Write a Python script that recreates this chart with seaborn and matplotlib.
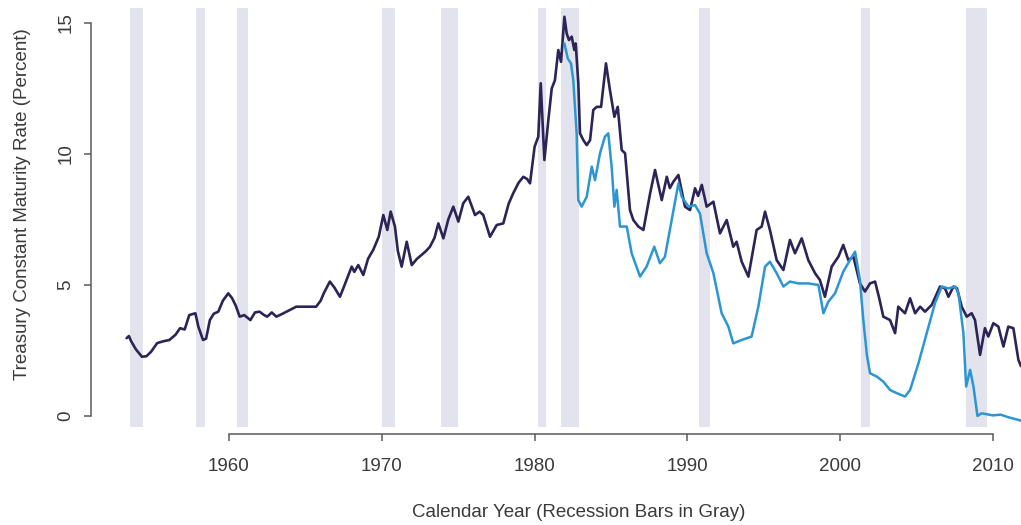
import numpy as np
import pandas as pd
import seaborn as sns
import matplotlib
matplotlib.use("Agg")
import matplotlib.pyplot as plt

# 10-year treasury (dark line): year, percent
long_years = [
    1953.30, 1953.45, 1953.60, 1953.90, 1954.30, 1954.60, 1954.90, 1955.30, 1955.70,
    1956.10, 1956.50, 1956.80, 1957.10, 1957.40, 1957.80, 1958.00, 1958.30, 1958.50,
    1958.75, 1959.00, 1959.30, 1959.60, 1959.95, 1960.20, 1960.45, 1960.70, 1961.00,
    1961.40, 1961.70, 1962.00, 1962.30, 1962.50, 1962.80, 1963.10, 1963.50, 1964.00,
    1964.40, 1965.00, 1965.70, 1966.00, 1966.20, 1966.60, 1966.90, 1967.26, 1967.50,
    1968.03, 1968.20, 1968.46, 1968.79, 1969.10, 1969.44, 1969.80, 1970.10, 1970.36,
    1970.58, 1970.86, 1971.05, 1971.30, 1971.63, 1971.96, 1972.30, 1972.61, 1972.90,
    1973.15, 1973.45, 1973.70, 1974.03, 1974.35, 1974.68, 1975.01, 1975.33, 1975.66,
    1976.10, 1976.40, 1976.64, 1977.08, 1977.52, 1977.95, 1978.30, 1978.60, 1978.95,
    1979.26, 1979.50, 1979.70, 1980.00, 1980.24, 1980.40, 1980.64, 1980.90, 1981.12,
    1981.33, 1981.55, 1981.73, 1981.95, 1982.10, 1982.25, 1982.43, 1982.60, 1982.69,
    1982.86, 1982.97, 1983.19, 1983.41, 1983.63, 1983.84, 1984.06, 1984.35, 1984.67,
    1984.93, 1985.22, 1985.44, 1985.70, 1985.92, 1986.24, 1986.46, 1986.79, 1987.12,
    1987.56, 1987.88, 1988.32, 1988.65, 1988.85, 1989.08, 1989.41, 1989.84, 1990.17,
    1990.50, 1990.70, 1990.94, 1991.26, 1991.70, 1992.13, 1992.57, 1993.00, 1993.22,
    1993.55, 1993.99, 1994.53, 1994.86, 1995.08, 1995.40, 1995.84, 1996.28, 1996.71,
    1997.04, 1997.48, 1997.91, 1998.35, 1998.67, 1999.00, 1999.44, 1999.88, 2000.20,
    2000.53, 2000.86, 2001.29, 2001.62, 2001.95, 2002.28, 2002.55, 2002.82, 2003.26,
    2003.59, 2003.80, 2004.24, 2004.57, 2004.90, 2005.23, 2005.55, 2005.99, 2006.53,
    2006.86, 2007.08, 2007.41, 2007.64, 2007.95, 2008.28, 2008.60, 2008.82, 2009.15,
    2009.47, 2009.69, 2010.02, 2010.35, 2010.68, 2011.00, 2011.33, 2011.66, 2011.83,
]
long_rate = [
    2.97, 3.05, 2.85, 2.55, 2.26, 2.28, 2.45, 2.78, 2.85,
    2.90, 3.10, 3.35, 3.30, 3.85, 3.92, 3.40, 2.90, 2.95,
    3.66, 3.90, 3.98, 4.40, 4.68, 4.50, 4.20, 3.79, 3.85,
    3.66, 3.95, 3.98, 3.85, 3.79, 3.95, 3.79, 3.90, 4.05,
    4.17, 4.17, 4.17, 4.40, 4.68, 5.13, 4.90, 4.55, 4.90,
    5.70, 5.50, 5.76, 5.38, 6.00, 6.34, 6.84, 7.67, 7.10,
    7.80, 7.23, 6.30, 5.70, 6.65, 5.76, 6.00, 6.15, 6.30,
    6.46, 6.80, 7.35, 6.78, 7.50, 7.99, 7.42, 8.12, 8.37,
    7.67, 7.80, 7.67, 6.84, 7.29, 7.35, 8.10, 8.50, 8.90,
    9.13, 9.05, 8.88, 10.28, 10.66, 12.70, 9.77, 11.30, 12.50,
    12.82, 13.97, 13.52, 15.24, 14.60, 14.35, 14.48, 13.97, 14.22,
    12.70, 10.79, 10.53, 10.34, 10.53, 11.68, 11.80, 11.80, 13.46,
    12.44, 11.42, 11.80, 10.15, 10.03, 7.86, 7.48, 7.23, 7.10,
    8.50, 9.39, 8.24, 9.13, 8.70, 8.94, 9.20, 7.99, 7.86,
    8.69, 8.40, 8.82, 7.99, 8.18, 6.97, 7.48, 6.46, 6.65,
    5.89, 5.32, 7.10, 7.23, 7.80, 7.10, 5.95, 5.57, 6.72,
    6.21, 6.78, 5.95, 5.45, 5.19, 4.55, 5.70, 6.08, 6.53,
    5.95, 6.08, 5.06, 4.75, 5.06, 5.13, 4.50, 3.79, 3.66,
    3.16, 4.17, 3.92, 4.49, 3.92, 4.17, 3.98, 4.24, 4.94,
    4.87, 4.55, 4.94, 4.87, 4.17, 3.79, 3.92, 3.66, 2.33,
    3.35, 3.03, 3.54, 3.41, 2.65, 3.41, 3.35, 2.14, 1.90,
]

# 3-month treasury (light blue line), starts 1982
short_years = [
    1981.95, 1982.17, 1982.38, 1982.53, 1982.75, 1982.86, 1983.08, 1983.41, 1983.74,
    1983.95, 1984.28, 1984.60, 1984.82, 1985.04, 1985.22, 1985.37, 1985.59, 1986.03,
    1986.35, 1986.90, 1987.33, 1987.83, 1988.20, 1988.53, 1988.97, 1989.41, 1989.63,
    1990.07, 1990.50, 1990.82, 1991.26, 1991.70, 1992.24, 1992.68, 1993.00, 1993.55,
    1994.20, 1994.64, 1995.08, 1995.40, 1995.84, 1996.28, 1996.71, 1997.26, 1997.91,
    1998.57, 1998.90, 1999.22, 1999.66, 2000.20, 2000.64, 2000.97, 2001.29, 2001.51,
    2001.75, 2001.95, 2002.40, 2002.82, 2003.26, 2003.70, 2004.24, 2004.57, 2005.12,
    2005.66, 2006.20, 2006.64, 2007.08, 2007.52, 2007.74, 2008.06, 2008.24, 2008.50,
    2008.72, 2008.98, 2009.25, 2010.00, 2010.50, 2011.00, 2011.83,
]
short_rate = [
    14.22, 13.65, 13.46, 12.82, 10.80, 8.24, 7.99, 8.37, 9.52,
    9.00, 10.03, 10.66, 10.79, 9.52, 7.99, 8.63, 7.23, 7.23,
    6.21, 5.32, 5.70, 6.46, 5.83, 6.08, 7.48, 8.88, 8.37,
    7.99, 8.05, 7.73, 6.21, 5.45, 3.92, 3.41, 2.77, 2.90,
    3.03, 4.17, 5.70, 5.89, 5.45, 4.94, 5.13, 5.06, 5.06,
    5.00, 3.92, 4.36, 4.68, 5.51, 5.95, 6.27, 5.19, 3.66,
    2.30, 1.63, 1.50, 1.31, 0.99, 0.87, 0.74, 0.99, 2.01,
    3.16, 4.30, 4.94, 4.87, 4.94, 4.68, 3.16, 1.12, 1.76,
    1.12, 0.00, 0.10, 0.02, 0.05, -0.05, -0.18,
]

# recession bars (start, end)
rec_start = [1953.50, 1957.84, 1960.50, 1969.99, 1973.90, 1980.24, 1981.70, 1990.75, 2001.35, 2008.20]
rec_end = [1954.35, 1958.43, 1961.26, 1970.86, 1975.00, 1980.72, 1982.90, 1991.50, 2001.98, 2009.60]

year_ticks = [1960, 1970, 1980, 1990, 2000, 2010]
rate_ticks = [0, 5, 10, 15]

long_df = pd.DataFrame({"year": long_years, "rate": long_rate})
short_df = pd.DataFrame({"year": short_years, "rate": short_rate})

sns.set_style("ticks")
plt.rcParams["font.family"] = ["Liberation Sans", "DejaVu Sans"]

fig = plt.figure(figsize=(10.21, 5.25), dpi=100)
ax = fig.add_axes([91 / 1021, 91 / 525, 930 / 1021, 434 / 525])

# recession shading
for s, e in zip(rec_start, rec_end):
    ax.fill_between([s, e], -0.42, 15.57, color="#e3e3ed", lw=0, zorder=0)

sns.lineplot(data=long_df, x="year", y="rate", ax=ax, color="#2c2457",
             lw=1.9, estimator=None, sort=False, zorder=2)
sns.lineplot(data=short_df, x="year", y="rate", ax=ax, color="#2b96d3",
             lw=1.8, estimator=None, sort=False, zorder=3)

ax.set_xlim(1950.97, 2011.83)
ax.set_ylim(-0.69, 15.88)

ax.set_xticks(year_ticks)
ax.set_yticks(rate_ticks)
ax.set_yticklabels([str(t) for t in rate_ticks], rotation=90, va="center")

# R-style axes: lines only span the tick range
for side in ["top", "right"]:
    ax.spines[side].set_visible(False)
ax.spines["left"].set_bounds(0, 15)
ax.spines["bottom"].set_bounds(1960, 2010)
for side in ["left", "bottom"]:
    ax.spines[side].set_color("#5a5a5a")
    ax.spines[side].set_linewidth(1.1)

ax.tick_params(axis="both", bottom=True, left=True, direction="out", length=5,
               width=1.1, color="#5a5a5a", labelsize=13.5, labelcolor="#3a3a3a")
ax.tick_params(axis="x", pad=12)
ax.tick_params(axis="y", pad=7)

ax.set_xlabel("Calendar Year (Recession Bars in Gray)", fontsize=13.5, color="#3a3a3a")
ax.set_ylabel("Treasury Constant Maturity Rate (Percent)", fontsize=13.5, color="#3a3a3a")
ax.xaxis.label.set_va("center")
ax.yaxis.label.set_va("center")
ax.xaxis.set_label_coords(0.524, -0.18)
ax.yaxis.set_label_coords(-0.074, 0.53)

fig.savefig("out.png", dpi=100)
